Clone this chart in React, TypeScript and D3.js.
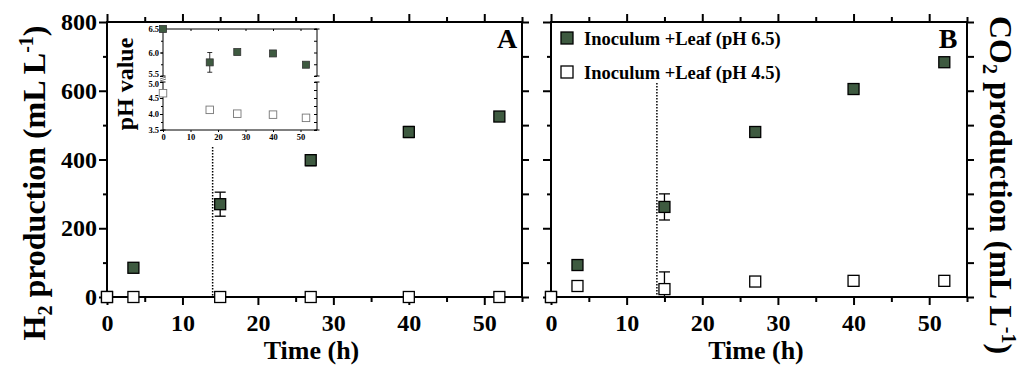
import React, { useRef, useEffect } from "react";
import * as d3 from "d3";

const WIDTH = 1021;
const HEIGHT = 374;
const FONT = "'Liberation Serif', 'Times New Roman', serif";
const FILL = "#3e5a40";

// panel A: H2 production (mL L-1)
const timeH = [0, 3.5, 15, 27, 40, 52];
const h2Ph65 = [0, 85, 270, 398, 480, 525];
const h2Ph65Err = [0, 0, 35, 16, 16, 0];
const h2Ph45 = [0, 0, 0, 0, 0, 0];

// panel B: CO2 production (mL L-1)
const co2Ph65 = [0, 93, 262, 480, 605, 683];
const co2Ph65Err = [0, 0, 38, 0, 0, 0];
const co2Ph45 = [0, 32, 23, 45, 47, 47];
const co2Ph45Err = [0, 0, 50, 0, 0, 0];

// inset: pH value
const timePh = [0, 17, 27, 40, 52];
const ph65 = [6.5, 5.79, 6.01, 5.98, 5.74];
const ph65Err = [0, 0.21, 0, 0, 0];
const ph45 = [4.65, 4.13, 4.01, 3.98, 3.88];

const xMajor = [0, 10, 20, 30, 40, 50];
const xMinor = [5, 15, 25, 35, 45, 55];
const yMajor = [0, 200, 400, 600, 800];
const yMinor = [100, 300, 500, 700];
const insetX = [0, 10, 20, 30, 40, 50];
const phUpTicks = [5.5, 6.0, 6.5];
const phLowTicks = [3.5, 4.0, 4.5, 5.0];
const legendLabels = ["Inoculum +Leaf (pH 6.5)", "Inoculum +Leaf (pH 4.5)"];

const TOP = 22;
const BOTTOM = 297;

function styleAxis(g, size, width = 2) {
  g.select(".domain").remove();
  g.selectAll("line").attr("stroke", "#000").attr("stroke-width", width);
  g.selectAll("text")
    .attr("font-family", FONT)
    .attr("font-weight", "bold")
    .attr("font-size", size)
    .attr("fill", "#000");
}

function squares(g, x, y, xs, ys, size, filled, stroke = "#000", sw = 1.3) {
  g.selectAll(null)
    .data(xs.map((t, i) => [t, ys[i]]))
    .join("rect")
    .attr("x", (d) => x(d[0]) - size / 2)
    .attr("y", (d) => y(d[1]) - size / 2)
    .attr("width", size)
    .attr("height", size)
    .attr("fill", filled ? FILL : "#fff")
    .attr("stroke", stroke)
    .attr("stroke-width", sw);
}

// vertical error bars; the lower end is cut at the axis floor (no cap there)
function errorBars(g, x, y, xs, ys, errs, cap, floor, sw = 1.3) {
  xs.forEach((t, i) => {
    if (!errs[i]) return;
    const rawLo = ys[i] - errs[i];
    const lo = Math.max(floor, rawLo);
    const hi = ys[i] + errs[i];
    const cx = x(t);
    g.append("line").attr("x1", cx).attr("x2", cx).attr("y1", y(lo)).attr("y2", y(hi))
      .attr("stroke", "#000").attr("stroke-width", sw);
    const caps = rawLo < floor ? [hi] : [lo, hi];
    caps.forEach((v) => {
      g.append("line").attr("x1", cx - cap / 2).attr("x2", cx + cap / 2)
        .attr("y1", y(v)).attr("y2", y(v)).attr("stroke", "#000").attr("stroke-width", sw);
    });
  });
}

function drawPanel(svg, opts) {
  const { x0, x1, filled, filledErr, hollow, hollowErr, letter, letterX, dotTop, yLabels } = opts;
  const x = d3.scaleLinear().domain([0, 55]).range([x0, x1]);
  const y = d3.scaleLinear().domain([0, 800]).range([BOTTOM, TOP]);
  const g = svg.append("g");

  // bottom axis
  styleAxis(g.append("g").attr("transform", `translate(0,${BOTTOM})`)
    .call(d3.axisBottom(x).tickValues(xMajor).tickSize(8).tickPadding(9).tickFormat(d3.format("d"))), 24);
  styleAxis(g.append("g").attr("transform", `translate(0,${BOTTOM})`)
    .call(d3.axisBottom(x).tickValues(xMinor).tickSize(5).tickFormat(() => "")), 24);
  // top axis
  styleAxis(g.append("g").attr("transform", `translate(0,${TOP})`)
    .call(d3.axisTop(x).tickValues(xMajor).tickSize(8).tickFormat(() => "")), 24);
  styleAxis(g.append("g").attr("transform", `translate(0,${TOP})`)
    .call(d3.axisTop(x).tickValues(xMinor).tickSize(5).tickFormat(() => "")), 24);
  // left axis
  styleAxis(g.append("g").attr("transform", `translate(${x0},0)`)
    .call(d3.axisLeft(y).tickValues(yMajor).tickSize(8).tickPadding(2)
      .tickFormat(yLabels ? d3.format("d") : () => "")), 24);
  styleAxis(g.append("g").attr("transform", `translate(${x0},0)`)
    .call(d3.axisLeft(y).tickValues(yMinor).tickSize(4).tickFormat(() => "")), 24);
  // right axis
  styleAxis(g.append("g").attr("transform", `translate(${x1},0)`)
    .call(d3.axisRight(y).tickValues([...yMajor, ...yMinor]).tickSize(7).tickFormat(() => "")), 24);

  // frame
  g.append("rect").attr("x", x0).attr("y", TOP).attr("width", x1 - x0).attr("height", BOTTOM - TOP)
    .attr("fill", "none").attr("stroke", "#000").attr("stroke-width", 2);

  // dotted line at 14 h
  g.append("line").attr("x1", x(14)).attr("x2", x(14)).attr("y1", dotTop).attr("y2", BOTTOM)
    .attr("stroke", "#000").attr("stroke-width", 1.5).attr("stroke-dasharray", "1.5,1.5");

  errorBars(g, x, y, timeH, filled, filledErr, 11, 0);
  squares(g, x, y, timeH, filled, 11, true);
  errorBars(g, x, y, timeH, hollow, hollowErr, 11, 0);
  squares(g, x, y, timeH, hollow, 11, false);

  g.append("text").attr("x", letterX).attr("y", 48).attr("text-anchor", "middle")
    .attr("font-family", FONT).attr("font-weight", "bold").attr("font-size", 28).text(letter);

  // x title
  g.append("text").attr("x", (x0 + x1) / 2 - 3).attr("y", 359).attr("text-anchor", "middle")
    .attr("font-family", FONT).attr("font-weight", "bold").attr("font-size", 26).text("Time (h)");
}

function drawInset(svg) {
  const L = 163, R = 317, T = 29, B = 130;
  const x = d3.scaleLinear().domain([0, 56]).range([L, R]);
  const yUp = d3.scaleLinear().domain([5.5, 6.5]).range([76, T]);
  const yLow = d3.scaleLinear().domain([3.5, 5.0]).range([B, 82]);
  const g = svg.append("g");
  const fs = 8.5;

  // left / right axes (broken between 5.0 and 5.5)
  [[yUp, phUpTicks, -2], [yLow, phLowTicks, 2]].forEach(([s, ticks, nudge]) => {
    const minor = d3.range(s.domain()[0], s.domain()[1] + 0.001, 0.25);
    const ax = g.append("g").attr("transform", `translate(${L},0)`)
      .call(d3.axisLeft(s).tickValues(ticks).tickSize(3).tickPadding(1).tickFormat(d3.format(".1f")));
    styleAxis(ax, fs, 1);
    // pull the two labels at the break apart a little
    ax.selectAll(".tick text").filter((d) => d === 5.5 || d === 5.0).attr("dy", `${0.32 + nudge / fs}em`);
    styleAxis(g.append("g").attr("transform", `translate(${L},0)`)
      .call(d3.axisLeft(s).tickValues(minor).tickSize(2).tickFormat(() => "")), fs, 1);
    styleAxis(g.append("g").attr("transform", `translate(${R},0)`)
      .call(d3.axisLeft(s).tickValues(minor).tickSize(3).tickFormat(() => "")), fs, 1);
    [L, R].forEach((px) => {
      g.append("line").attr("x1", px).attr("x2", px).attr("y1", s.range()[0]).attr("y2", s.range()[1])
        .attr("stroke", "#000").attr("stroke-width", 1);
      s.range().forEach((py) => {
        g.append("line").attr("x1", px - 2.5).attr("x2", px + 2.5).attr("y1", py).attr("y2", py)
          .attr("stroke", "#000").attr("stroke-width", 1);
      });
    });
  });
  // break marks
  [78, 80].forEach((py) => {
    g.append("line").attr("x1", L - 3).attr("x2", L + 3).attr("y1", py + 1).attr("y2", py - 1)
      .attr("stroke", "#555").attr("stroke-width", 0.8);
  });

  // bottom / top
  styleAxis(g.append("g").attr("transform", `translate(0,${B})`)
    .call(d3.axisBottom(x).tickValues(insetX).tickSize(2).tickPadding(2).tickFormat(d3.format("d"))), fs, 1);
  styleAxis(g.append("g").attr("transform", `translate(0,${T})`)
    .call(d3.axisBottom(x).tickValues(insetX).tickSize(2).tickFormat(() => "")), fs, 1);
  g.append("line").attr("x1", L).attr("x2", R).attr("y1", B).attr("y2", B).attr("stroke", "#000").attr("stroke-width", 1);
  g.append("line").attr("x1", L).attr("x2", R).attr("y1", T).attr("y2", T).attr("stroke", "#000").attr("stroke-width", 1);

  errorBars(g, x, yUp, timePh, ph65, ph65Err, 5, 0, 0.8);
  squares(g, x, yUp, timePh, ph65, 7, true, "#333", 0.8);
  squares(g, x, yLow, timePh, ph45, 7.5, false, "#777", 0.9);

  g.append("text").attr("transform", "translate(133,84) rotate(-90)").attr("text-anchor", "middle")
    .attr("font-family", FONT).attr("font-weight", "bold").attr("font-size", 24).text("pH value");
}

function rotatedLabel(svg, tx, ty, angle, chem, sub) {
  const t = svg.append("text").attr("transform", `translate(${tx},${ty}) rotate(${angle})`)
    .attr("text-anchor", "middle").attr("font-family", FONT).attr("font-weight", "bold").attr("font-size", 32);
  t.append("tspan").text(chem);
  t.append("tspan").attr("font-size", 20).attr("dy", 7).text(sub);
  t.append("tspan").attr("dy", -7).text(" production (mL L");
  t.append("tspan").attr("font-size", 20).attr("dy", -12).text("-1");
  t.append("tspan").attr("dy", 12).text(")");
}

export default function App() {
  const svgRef = useRef(null);

  useEffect(() => {
    const svg = d3.select(svgRef.current);
    svg.selectAll("*").remove();
    svg.append("rect").attr("width", WIDTH).attr("height", HEIGHT).attr("fill", "#fff");

    drawPanel(svg, {
      x0: 107, x1: 522, filled: h2Ph65, filledErr: h2Ph65Err, hollow: h2Ph45,
      hollowErr: [0, 0, 0, 0, 0, 0], letter: "A", letterX: 507, dotTop: 147, yLabels: true,
    });
    drawPanel(svg, {
      x0: 551, x1: 967, filled: co2Ph65, filledErr: co2Ph65Err, hollow: co2Ph45,
      hollowErr: co2Ph45Err, letter: "B", letterX: 948, dotTop: 83, yLabels: false,
    });
    drawInset(svg);

    // legend (panel B)
    legendLabels.forEach((lab, i) => {
      const cy = 38 + i * 34;
      svg.append("rect").attr("x", 561).attr("y", cy - 6).attr("width", 12).attr("height", 12)
        .attr("fill", i === 0 ? FILL : "#fff").attr("stroke", "#000").attr("stroke-width", 1.3);
      svg.append("text").attr("x", 584).attr("y", cy + 7).attr("font-family", FONT)
        .attr("font-weight", "bold").attr("font-size", 18.5).text(lab);
    });

    rotatedLabel(svg, 45, 183, -90, "H", "2");
    rotatedLabel(svg, 990, 185, 90, "CO", "2");
  }, []);

  return (
    <svg ref={svgRef} width={WIDTH} height={HEIGHT}
      style={{ position: "absolute", left: 0, top: 0 }} />
  );
}
